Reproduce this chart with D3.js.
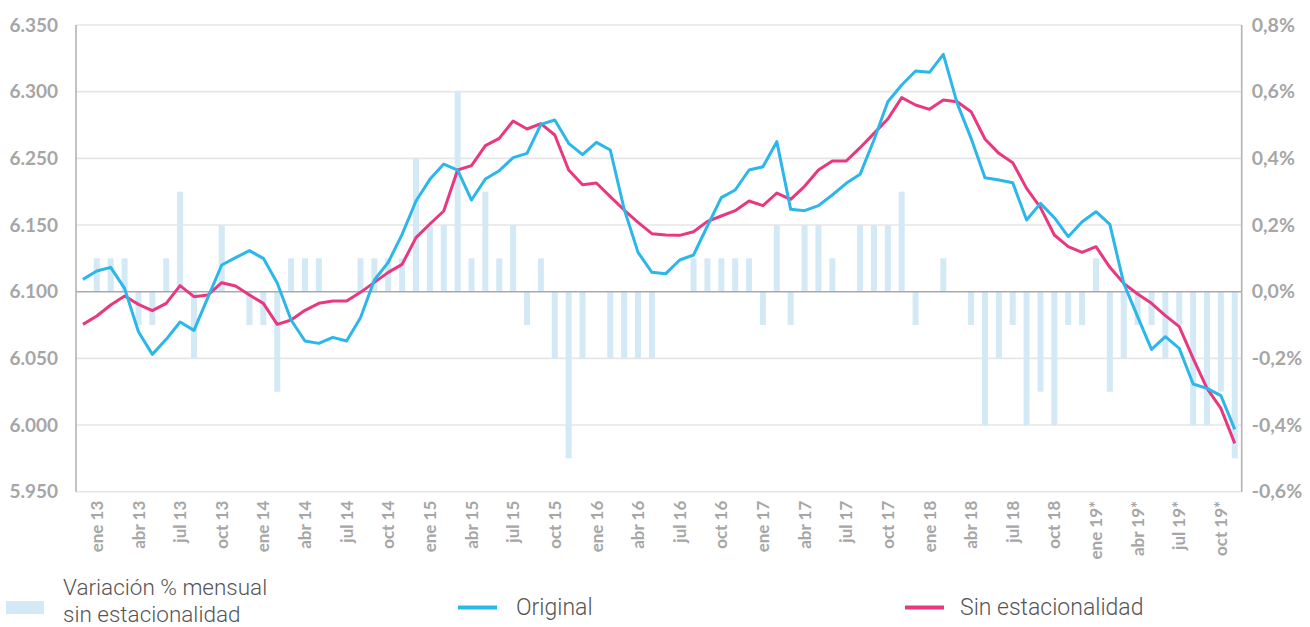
<!DOCTYPE html>
<html lang="es">
<head>
<meta charset="utf-8">
<script src="https://cdn.jsdelivr.net/npm/d3@7"></script>
<style>
  html, body { margin: 0; padding: 0; background: #ffffff; }
  svg { display: block; }
</style>
</head>
<body>
<svg id="chart" width="1310" height="627"></svg>
<script>
// Monthly series, Dec 2012 – Nov 2019 (thousands of workers)
const monthNames = ["ene", "feb", "mar", "abr", "may", "jun", "jul", "ago", "sep", "oct", "nov", "dic"];
const yearLabels = ["12", "13", "14", "15", "16", "17", "18", "19*"];

const categories = ["dic 12"];
for (let y = 1; y < yearLabels.length; y++) {
  for (let m = 0; m < 12; m++) {
    if (y === yearLabels.length - 1 && m > 10) break;
    categories.push(monthNames[m] + " " + yearLabels[y]);
  }
}

const original = [
  6109.25, 6115.5, 6118.25, 6102.5, 6070, 6053, 6064.25, 6077.25, 6071, 6095.5,
  6120, 6125.5, 6130.75, 6125, 6106.5, 6078.75, 6063, 6061.25, 6065.75, 6063,
  6080.5, 6108.75, 6122, 6143, 6168, 6184.25, 6195.75, 6191.25, 6168.75, 6184.5,
  6190.75, 6200.5, 6203.75, 6225.5, 6228.75, 6211.25, 6202.75, 6212, 6206.25, 6162,
  6129.5, 6114.5, 6113.5, 6123.75, 6127.5, 6149.25, 6170.5, 6176.25, 6191.25, 6193.75,
  6212.5, 6161.75, 6160.75, 6164.5, 6172.5, 6181.25, 6188, 6213.75, 6242.5, 6255,
  6265.5, 6264.5, 6278, 6241.25, 6215, 6185.5, 6183.75, 6181.75, 6153.75, 6166.25,
  6155.5, 6141.25, 6152.5, 6160, 6150.5, 6106.25, 6081.25, 6056.75, 6066.25, 6057.5,
  6030.75, 6027.5, 6022, 5996.75
];

const sinEstacionalidad = [
  6075.5, 6081.75, 6090, 6096.75, 6090.5, 6085.75, 6091.25, 6104.5, 6096.25, 6097.5,
  6106.75, 6104.25, 6097.5, 6091.25, 6075.5, 6078.75, 6086, 6091.25, 6093, 6093,
  6099.5, 6107, 6114.5, 6120.5, 6140.5, 6150.75, 6160.5, 6191.25, 6194.5, 6209.5,
  6215, 6228, 6222, 6226, 6217.5, 6191.25, 6180.25, 6181.5, 6171.25, 6161.25,
  6152, 6143.5, 6142.5, 6142.25, 6145, 6152.75, 6156.75, 6160.75, 6168, 6164.5,
  6174, 6169.25, 6179, 6191.25, 6198, 6198, 6208, 6218.75, 6229.5, 6245.5,
  6240, 6236.75, 6243.75, 6242.5, 6235, 6214.5, 6203.75, 6196.75, 6177.5, 6163,
  6142.5, 6133.75, 6129.5, 6133.75, 6118.25, 6106.25, 6098.25, 6091.25, 6082, 6073.75,
  6050, 6027.5, 6012.5, 5986.25
];

// Monthly % change, seasonally adjusted (first month has no value)
const variacion = [
  null, 0.1, 0.1, 0.1, -0.1, -0.1, 0.1, 0.3, -0.2, 0,
  0.2, 0, -0.1, -0.1, -0.3, 0.1, 0.1, 0.1, 0, 0,
  0.1, 0.1, 0.1, 0.1, 0.4, 0.2, 0.2, 0.6, 0.1, 0.3,
  0.1, 0.2, -0.1, 0.1, -0.2, -0.5, -0.2, 0, -0.2, -0.2,
  -0.2, -0.2, 0, 0, 0.1, 0.1, 0.1, 0.1, 0.1, -0.1,
  0.2, -0.1, 0.2, 0.2, 0.1, 0, 0.2, 0.2, 0.2, 0.3,
  -0.1, 0, 0.1, 0, -0.1, -0.4, -0.2, -0.1, -0.4, -0.3,
  -0.4, -0.1, -0.1, 0.1, -0.3, -0.2, -0.1, -0.1, -0.2, -0.1,
  -0.4, -0.4, -0.3, -0.5
];

const leftTickValues = [5950, 6000, 6050, 6100, 6150, 6200, 6250, 6300];
const leftTickLabels = ["5.950", "6.000", "6.050", "6.100", "6.150", "6.250", "6.300", "6.350"];
const rightTickValues = [-0.6, -0.4, -0.2, 0, 0.2, 0.4, 0.6, 0.8];
const rightTickLabels = ["-0,6%", "-0,4%", "-0,2%", "0,0%", "0,2%", "0,4%", "0,6%", "0,8%"];
const xTickMonths = ["ene", "abr", "jul", "oct"];

const legendItems = [
  { key: "var", lines: ["Variación % mensual", "sin estacionalidad"] },
  { key: "orig", lines: ["Original"] },
  { key: "sin", lines: ["Sin estacionalidad"] }
];

// Styling
const colors = {
  bar: "#d3e9f5",
  original: "#2bb7e9",
  sin: "#e8387f",
  grid: "#e6e6e6",
  axis: "#b3b3b3",
  zero: "#a9a9a9",
  tick: "#a6a6a6",
  legend: "#555555"
};

const margin = { left: 76, right: 1241.7, top: 25, bottom: 491.7 };

const svg = d3.select("#chart");

const x = d3.scaleBand().domain(categories).range([margin.left, margin.right]).padding(0);
const cx = d => x(d) + x.bandwidth() / 2;
const yL = d3.scaleLinear().domain([5950, 6300]).range([margin.bottom, margin.top]);
const yR = d3.scaleLinear().domain([-0.6, 0.8]).range([margin.bottom, margin.top]);

// Horizontal gridlines
svg.append("g")
  .selectAll("line")
  .data(leftTickValues.filter(v => v !== 6100))
  .join("line")
  .attr("x1", margin.left).attr("x2", margin.right)
  .attr("y1", d => yL(d)).attr("y2", d => yL(d))
  .attr("stroke", colors.grid).attr("stroke-width", 1.6);

// Monthly variation bars (right axis)
const barW = 6;
svg.append("g")
  .selectAll("rect")
  .data(categories.map((c, i) => ({ c, v: variacion[i] })).filter(d => d.v !== null && d.v !== 0))
  .join("rect")
  .attr("x", d => cx(d.c) - barW / 2)
  .attr("width", barW)
  .attr("y", d => Math.min(yR(d.v), yR(0)))
  .attr("height", d => Math.abs(yR(d.v) - yR(0)))
  .attr("fill", colors.bar);

// Zero line
svg.append("line")
  .attr("x1", margin.left).attr("x2", margin.right)
  .attr("y1", yR(0)).attr("y2", yR(0))
  .attr("stroke", colors.zero).attr("stroke-width", 1.6);

// Vertical axis lines
[margin.left, margin.right].forEach(xx => {
  svg.append("line")
    .attr("x1", xx).attr("x2", xx)
    .attr("y1", margin.top).attr("y2", margin.bottom)
    .attr("stroke", colors.axis).attr("stroke-width", 1.6);
});

// Lines
const line = d3.line().x((d, i) => cx(categories[i])).y(d => yL(d));
svg.append("path").datum(sinEstacionalidad)
  .attr("d", line).attr("fill", "none")
  .attr("stroke", colors.sin).attr("stroke-width", 3).attr("stroke-linejoin", "round");
svg.append("path").datum(original)
  .attr("d", line).attr("fill", "none")
  .attr("stroke", colors.original).attr("stroke-width", 3).attr("stroke-linejoin", "round");

const tickFont = sel => sel
  .attr("fill", colors.tick)
  .style("font-family", "Lato, 'Open Sans', sans-serif")
  .style("font-weight", 700);

// Left axis
const leftAxis = svg.append("g")
  .attr("transform", `translate(${margin.left},0)`)
  .call(d3.axisLeft(yL).tickValues(leftTickValues).tickSize(0).tickPadding(18)
    .tickFormat((d, i) => leftTickLabels[i]));
leftAxis.select(".domain").remove();
leftAxis.selectAll("text").call(tickFont).style("font-size", "19px");

// Right axis
const rightAxis = svg.append("g")
  .attr("transform", `translate(${margin.right},0)`)
  .call(d3.axisRight(yR).tickValues(rightTickValues).tickSize(0).tickPadding(10)
    .tickFormat((d, i) => rightTickLabels[i]));
rightAxis.select(".domain").remove();
rightAxis.selectAll("text").call(tickFont).style("font-size", "19.5px");

// Bottom category axis
const bottomAxis = svg.append("g")
  .attr("transform", `translate(0,${margin.bottom})`)
  .call(d3.axisBottom(x)
    .tickValues(categories.filter(c => xTickMonths.includes(c.split(" ")[0])))
    .tickSize(0));
bottomAxis.select(".domain").remove();
bottomAxis.selectAll("text")
  .attr("transform", "rotate(-90)")
  .attr("x", -9).attr("y", 0).attr("dy", "0.36em")
  .attr("text-anchor", "end")
  .call(tickFont).style("font-size", "17px");

// Legend
const legend = svg.append("g")
  .style("font-family", "Roboto, 'Open Sans', sans-serif")
  .style("font-weight", 300).style("font-size", "23px")
  .attr("fill", colors.legend);

legend.append("rect").attr("x", 6).attr("y", 601).attr("width", 38).attr("height", 13).attr("fill", colors.bar);
legend.append("text").attr("x", 63).attr("y", 594.5).style("font-size", "22.5px").text(legendItems[0].lines[0]);
legend.append("text").attr("x", 63).attr("y", 621.5).style("font-size", "22.5px").text(legendItems[0].lines[1]);

legend.append("line").attr("x1", 458).attr("x2", 497).attr("y1", 607.5).attr("y2", 607.5)
  .attr("stroke", colors.original).attr("stroke-width", 4);
legend.append("text").attr("x", 516).attr("y", 614.5).text(legendItems[1].lines[0]);

legend.append("line").attr("x1", 905).attr("x2", 944).attr("y1", 607.5).attr("y2", 607.5)
  .attr("stroke", colors.sin).attr("stroke-width", 4);
legend.append("text").attr("x", 960).attr("y", 614.5).text(legendItems[2].lines[0]);
</script>
</body>
</html>
